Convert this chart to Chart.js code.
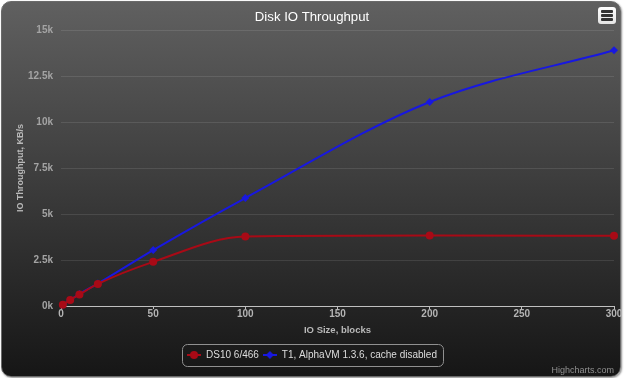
<!DOCTYPE html>
<html><head><meta charset="utf-8">
<script src="https://cdn.jsdelivr.net/npm/chart.js@4/dist/chart.umd.min.js"></script>
<style>
html,body{margin:0;padding:0;background:#fff;}
#wrap{position:relative;width:624px;height:378px;overflow:hidden;}
#bg{position:absolute;left:1px;top:1px;width:618px;height:374px;border-radius:10px;border:1px solid #6a6a6a;
 background:linear-gradient(to bottom, rgb(96,96,96) 0px, rgb(22,22,22) 374px);box-shadow:1px 1px 2px rgba(0,0,0,0.45);}
#c{position:absolute;left:0;top:0;}
#menu{position:absolute;left:598px;top:7px;width:18px;height:17px;border-radius:3px;background:linear-gradient(#ffffff,#e4e4e4);}
#menu span{position:absolute;left:3px;width:12px;height:3px;background:#333;border-radius:1px;}
</style></head>
<body>
<div id="wrap">
 <div id="bg"></div>
 <canvas id="c" width="624" height="378"></canvas>
 <div id="menu"><span style="top:3px"></span><span style="top:7px"></span><span style="top:11px"></span></div>
</div>
<script>
// ---- data ----
const ioSizes = [1, 5, 10, 20, 50, 100, 200, 300];          // IO Size, blocks
const ds10Throughput = [70, 330, 630, 1200, 2400, 3780, 3830, 3820];   // KB/s
const t1Throughput = [70, 330, 650, 1220, 3040, 5870, 11090, 13900];   // KB/s
const seriesNames = ['DS10 6/466', 'T1, AlphaVM 1.3.6, cache disabled'];
const chartTitle = 'Disk IO Throughput';
const xTitle = 'IO Size, blocks';
const yTitle = 'IO Throughput, KB/s';
const creditText = 'Highcharts.com';

const FONT = "'Liberation Sans', Arial, sans-serif";
const RED = '#a80a16';
const BLUE = '#1818e0';

function legendSymbol(color, style) {
  const cv = document.createElement('canvas');
  cv.width = 14; cv.height = 10;
  const g = cv.getContext('2d');
  g.strokeStyle = color; g.lineWidth = 2;
  g.beginPath(); g.moveTo(0, 5); g.lineTo(14, 5); g.stroke();
  g.fillStyle = color; g.beginPath();
  if (style === 'circle') { g.arc(7, 5, 4, 0, Math.PI * 2); }
  else { g.moveTo(7, 1); g.lineTo(11, 5); g.lineTo(7, 9); g.lineTo(3, 5); g.closePath(); }
  g.fill();
  return cv;
}
const symbols = [legendSymbol(RED, 'circle'), legendSymbol(BLUE, 'diamond')];

const legendBorder = {
  id: 'legendBorder',
  afterDraw(chart) {
    const boxes = chart.legend && chart.legend.legendHitBoxes;
    if (!boxes || !boxes.length) return;
    const left = Math.min(...boxes.map(b => b.left)) - 5;
    const right = Math.max(...boxes.map(b => b.left + b.width)) + 6;
    const cy = boxes[0].top + boxes[0].height / 2;
    const top = cy - 11, h = 22;
    const ctx = chart.ctx;
    ctx.save();
    ctx.strokeStyle = '#909090'; ctx.lineWidth = 1;
    ctx.beginPath();
    ctx.roundRect(Math.round(left) + 0.5, Math.round(top) + 0.5, Math.round(right - left), h, 5);
    ctx.stroke();
    ctx.restore();
  }
};

new Chart(document.getElementById('c'), {
  type: 'line',
  data: {
    datasets: [
      { label: seriesNames[0], data: ioSizes.map((x, i) => ({ x, y: ds10Throughput[i] })),
        borderColor: RED, backgroundColor: RED, borderWidth: 2, pointRadius: 4, pointStyle: 'circle',
        pointBorderWidth: 0, cubicInterpolationMode: 'monotone', clip: false },
      { label: seriesNames[1], data: ioSizes.map((x, i) => ({ x, y: t1Throughput[i] })),
        borderColor: BLUE, backgroundColor: BLUE, borderWidth: 2, pointRadius: 4, pointStyle: 'rectRot',
        pointBorderWidth: 0, cubicInterpolationMode: 'monotone', clip: false }
    ]
  },
  options: {
    responsive: false, animation: false,
    layout: { padding: { left: 10, right: 10, top: 0, bottom: 1.1 } },
    plugins: {
      tooltip: { enabled: false },
      title: { display: true, text: chartTitle, color: '#ffffff',
        font: { family: FONT, size: 13.2, weight: 'normal', lineHeight: 1.2 }, padding: { top: 9.1, bottom: 5.1 } },
      subtitle: { display: true, text: creditText, position: 'bottom', align: 'end', color: '#909090',
        font: { family: FONT, size: 9, weight: 'normal', lineHeight: 1.2 }, padding: { top: 0, bottom: 1 } },
      legend: { position: 'bottom', maxHeight: 19.1,
        labels: { color: '#dddddd', font: { family: FONT, size: 10 }, padding: 4,
          usePointStyle: true, pointStyleWidth: 14,
          generateLabels: (chart) => chart.data.datasets.map((d, i) => ({
            text: d.label, fillStyle: d.borderColor, strokeStyle: d.borderColor, fontColor: '#dddddd',
            pointStyle: symbols[i], lineWidth: 0, hidden: false, datasetIndex: i })) } }
    },
    scales: {
      x: { type: 'linear', min: 0, max: 300,
        ticks: { stepSize: 50, color: '#b4b4b4', padding: 0, font: { family: FONT, size: 10, weight: 'bold', lineHeight: 1 } },
        grid: { drawOnChartArea: false, drawTicks: true, tickLength: 3, color: '#c0c0c0' },
        border: { display: true, color: '#c0c0c0', width: 1 },
        title: { display: true, text: xTitle, color: '#b8b8b8', padding: { top: 6.25, bottom: 11.25 },
          font: { family: FONT, size: 9.5, weight: 'bold', lineHeight: 1 } } },
      y: { min: 0, max: 15000,
        afterFit: (s) => { s.width = 51; },
        ticks: { stepSize: 2500, color: '#a4a4a4', padding: 8, callback: (v) => (v / 1000) + 'k',
          font: { family: FONT, size: 10, weight: 'bold' } },
        grid: { color: 'rgba(255,255,255,0.1)', drawTicks: false },
        border: { display: false },
        title: { display: true, text: yTitle, color: '#b8b8b8', padding: { top: 5.6, bottom: 0 },
          font: { family: FONT, size: 9, weight: 'bold', lineHeight: 1.2 } } }
    }
  },
  plugins: [legendBorder]
});
</script>
</body></html>
